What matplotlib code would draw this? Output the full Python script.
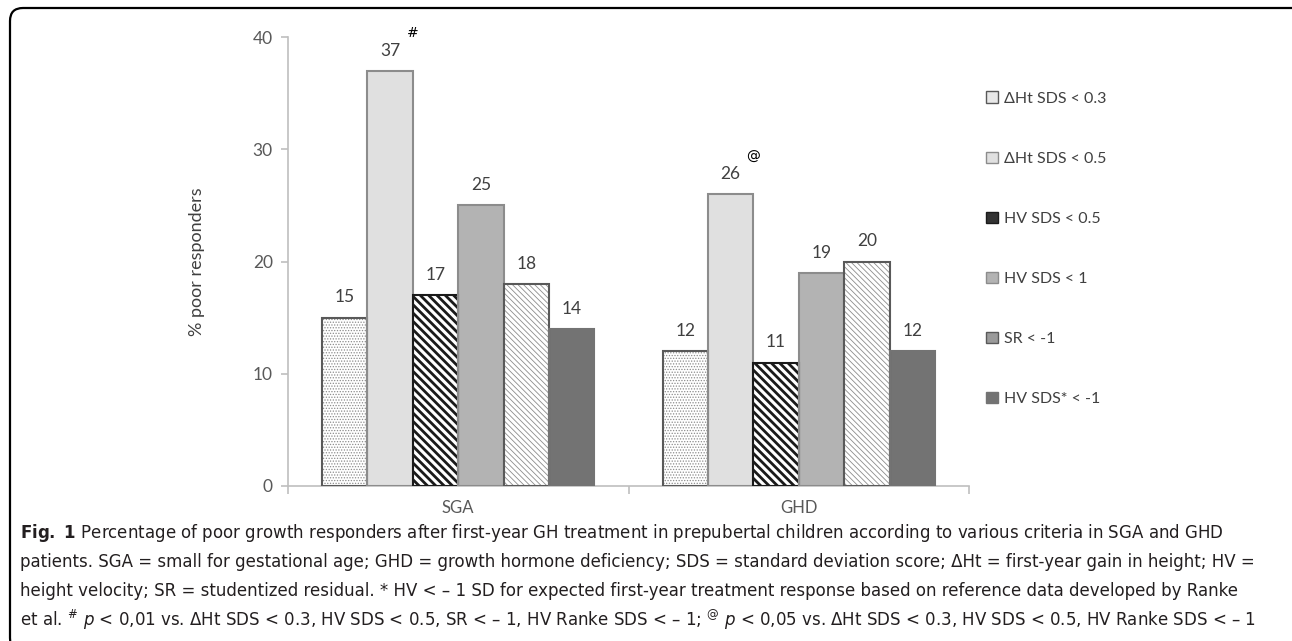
import numpy as np
import matplotlib
matplotlib.use("Agg")
import matplotlib.pyplot as plt
from matplotlib.patches import FancyBboxPatch, Patch

groups = ["SGA", "GHD"]
criteria = ["ΔHt SDS < 0.3", "ΔHt SDS < 0.5", "HV SDS < 0.5",
            "HV SDS < 1", "SR < -1", "HV SDS* < -1"]
sga_vals = [15, 37, 17, 25, 18, 14]
ghd_vals = [12, 26, 11, 19, 20, 12]
y_ticks = [0, 10, 20, 30, 40]
marks = {("SGA", 1): "#", ("GHD", 1): "@"}

caption_lines = [
    r"$\mathbf{Fig.\ 1}$ Percentage of poor growth responders after first-year GH treatment in prepubertal children according to various criteria in SGA and GHD",
    "patients. SGA = small for gestational age; GHD = growth hormone deficiency; SDS = standard deviation score; ΔHt = first-year gain in height; HV =",
    "height velocity; SR = studentized residual. * HV < – 1 SD for expected first-year treatment response based on reference data developed by Ranke",
    r"et al. $^{\#}$ $\mathit{p}$ < 0,01 vs. ΔHt SDS < 0.3, HV SDS < 0.5, SR < – 1, HV Ranke SDS < – 1; $^{@}$ $\mathit{p}$ < 0,05 vs. ΔHt SDS < 0.3, HV SDS < 0.5, HV Ranke SDS < – 1",
]
cap_font = "DejaVu Sans"

plt.rcParams["font.family"] = ["Lato", "DejaVu Sans"]
plt.rcParams["mathtext.fontset"] = "custom"
plt.rcParams["mathtext.rm"] = cap_font
plt.rcParams["mathtext.it"] = cap_font + ":italic"
plt.rcParams["mathtext.bf"] = cap_font + ":bold"

# fill, hatch colour, hatch, hatch line width
styles = [
    ("white", "#8c8c8c", "......", 0.6),
    ("#e0e0e0", "#8c8c8c", None, 1.0),
    ("white", "#1a1a1a", "\\\\\\\\", 2.0),
    ("#b3b3b3", "#8c8c8c", None, 1.0),
    ("white", "#8c8c8c", "\\\\\\\\\\\\", 0.6),
    ("#737373", "#737373", None, 1.0),
]
outline = ["#595959", "#8c8c8c", "#1a1a1a", "#8c8c8c", "#595959", "#737373"]
legend_fill = ["#e8e8e8", "#e0e0e0", "#333333", "#b3b3b3", "#9a9a9a", "#737373"]

fig = plt.figure(figsize=(12.92, 6.41), dpi=100)
ax = fig.add_axes([288 / 1292, 1 - 486 / 641, 681 / 1292, 449 / 641])

x = np.arange(len(groups))
n = len(criteria)
w = 0.8 / n
handles = []
for i, crit in enumerate(criteria):
    vals = [sga_vals[i], ghd_vals[i]]
    pos = x - 0.4 + w * (i + 0.5)
    fc, ec, hatch, hlw = styles[i]
    with plt.rc_context({"hatch.linewidth": hlw, "hatch.color": ec}):
        ax.bar(pos, vals, w, color=fc, edgecolor=ec, hatch=hatch,
               linewidth=0, zorder=2)
    ax.bar(pos, vals, w, fill=False, edgecolor=outline[i], linewidth=1.5, zorder=3)
    handles.append(Patch(facecolor=legend_fill[i], edgecolor=outline[i],
                         linewidth=1.0, label=crit))
    for j, (p, v) in enumerate(zip(pos, vals)):
        ax.annotate(str(v), (p, v), xytext=(0, 14.5), textcoords="offset points",
                    ha="center", va="center", fontsize=12.5, color="#404040")
        if (groups[j], i) in marks:
            ax.annotate(marks[(groups[j], i)], (p, v), xytext=(16, 27),
                        textcoords="offset points", ha="center", va="center",
                        fontsize=10, color="black", family="DejaVu Sans")

ax.set_xlim(-0.5, 1.5)
ax.set_ylim(0, 40)
ax.set_yticks(y_ticks)
ax.set_xticks(x)
ax.set_xticklabels(groups)
ax.set_xticks([-0.5, 0.5, 1.5], minor=True)
for s in ["top", "right"]:
    ax.spines[s].set_visible(False)
for s in ["left", "bottom"]:
    ax.spines[s].set_color("#bfbfbf")
    ax.spines[s].set_linewidth(1.2)
ax.tick_params(axis="y", direction="out", length=5, color="#bfbfbf", width=1.2,
               labelsize=12.5, labelcolor="#595959", pad=6)
ax.tick_params(axis="x", which="major", length=0, labelsize=12,
               labelcolor="#595959", pad=10)
ax.tick_params(axis="x", which="minor", direction="out", length=6,
               color="#bfbfbf", width=1.2)
ax.set_ylabel("% poor responders", fontsize=13, color="#404040")
ax.yaxis.set_label_coords(-83 / 681, 0.5)

ax.legend(handles=handles, loc="upper left", bbox_to_anchor=(972 / 1292, 1 - 77 / 641),
          bbox_transform=fig.transFigure, frameon=False, fontsize=11.5,
          labelspacing=2.88, handlelength=0.7, handleheight=0.7,
          handletextpad=0.4, labelcolor="#404040")

for k, line in enumerate(caption_lines):
    fig.text(20 / 1292, 1 - (533 + 29 * k) / 641, line, fontsize=12.0,
             family=cap_font, color="#231f20", va="center", ha="left")

fig.patches.append(FancyBboxPatch((0.1, -0.1), 13.2, 6.43,
                                  boxstyle="round,pad=0,rounding_size=0.13",
                                  transform=fig.dpi_scale_trans, fill=False,
                                  edgecolor="black", linewidth=1.6))

fig.savefig("out.png", dpi=100)
